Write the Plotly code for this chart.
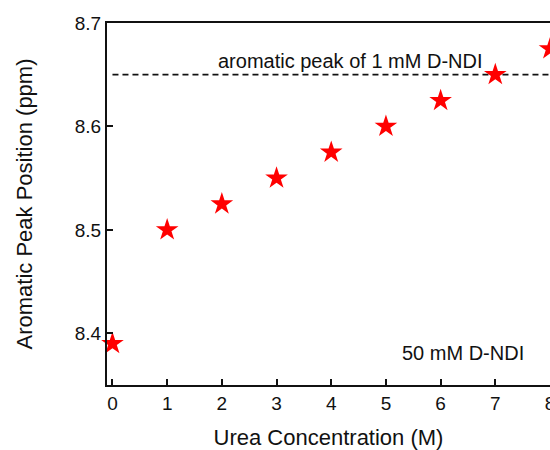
import plotly.graph_objects as go

# Urea titration of 50 mM D-NDI: aromatic proton shift vs urea concentration
urea_M = [0, 1, 2, 3, 4, 5, 6, 7, 8]
peak_ppm = [8.39, 8.50, 8.525, 8.55, 8.575, 8.60, 8.625, 8.65, 8.675]

# Reference shift of the dilute (1 mM) sample
ref_ppm = 8.65
ref_x = [0, 8]

x_ticks = [0, 1, 2, 3, 4, 5, 6, 7, 8]
y_ticks = [8.4, 8.5, 8.6, 8.7]

FONT = "Liberation Sans, Arial, sans-serif"
INK = "#111111"

fig = go.Figure()

fig.add_trace(go.Scatter(
    x=ref_x, y=[ref_ppm, ref_ppm], mode="lines",
    line=dict(color=INK, width=1.8, dash="6px,4px"),
    hoverinfo="skip", showlegend=False,
))

fig.add_trace(go.Scatter(
    x=urea_M, y=peak_ppm, mode="markers", cliponaxis=False,
    marker=dict(symbol="star", size=17, color="#ff0000", line=dict(width=0)),
    showlegend=False,
))

fig.add_annotation(
    x=4.35, y=8.663, xref="x", yref="y", text="aromatic peak of 1 mM D-NDI",
    showarrow=False, xanchor="center", yanchor="middle",
    font=dict(family=FONT, size=20, color=INK),
)
fig.add_annotation(
    x=6.41, y=8.381, xref="x", yref="y", text="50 mM D-NDI",
    showarrow=False, xanchor="center", yanchor="middle",
    font=dict(family=FONT, size=20, color=INK),
)

fig.update_layout(
    width=550, height=450,
    margin=dict(l=107, r=0, t=23, b=65),
    paper_bgcolor="white", plot_bgcolor="white",
    font=dict(family=FONT, color=INK),
)

fig.update_xaxes(
    range=[-0.1, 8.0], tickvals=x_ticks, ticklabeloverflow="allow", automargin=False,
    ticks="inside", ticklen=6, tickwidth=1.5, tickcolor=INK,
    showline=True, linewidth=2, linecolor=INK, mirror=True,
    showgrid=False, zeroline=False,
    tickfont=dict(family=FONT, size=19, color=INK),
    title=dict(text="Urea Concentration (M)", font=dict(family=FONT, size=22, color=INK), standoff=17),
)
fig.update_yaxes(
    range=[8.35, 8.7], tickvals=y_ticks, tickformat=".1f", automargin=False,
    ticks="inside", ticklen=6, tickwidth=1.5, tickcolor=INK,
    showline=True, linewidth=2, linecolor=INK,
    showgrid=False, zeroline=False,
    tickfont=dict(family=FONT, size=19, color=INK),
    title=dict(text="Aromatic Peak Position (ppm)", font=dict(family=FONT, size=22, color=INK), standoff=36),
)

fig.write_html("out.html")
